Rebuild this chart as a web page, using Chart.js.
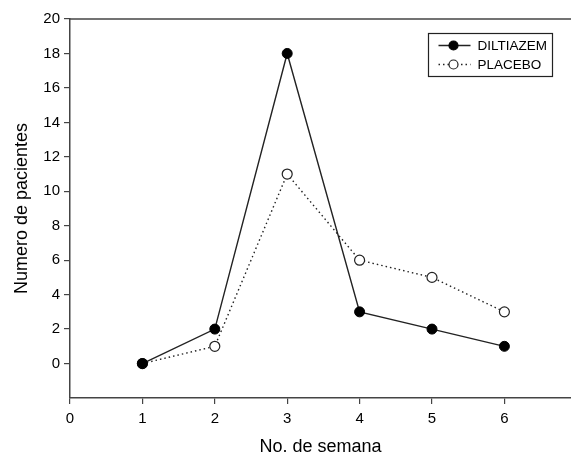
<!DOCTYPE html>
<html>
<head>
<meta charset="utf-8">
<script src="https://cdn.jsdelivr.net/npm/chart.js@4/dist/chart.umd.min.js"></script>
<style>
    html, body { margin: 0; padding: 0; background: #fff; overflow: hidden; }
    canvas { display: block; }
</style>
</head>
<body>
<canvas id="chart" width="571" height="458"></canvas>
<script>
// Data
const weeks = [1, 2, 3, 4, 5, 6];
const diltiazem = [0, 2, 18, 3, 2, 1];
const placebo = [0, 1, 11, 6, 5, 3];
const xTicks = [0, 1, 2, 3, 4, 5, 6];
const yTicks = [0, 2, 4, 6, 8, 10, 12, 14, 16, 18, 20];

const INK = '#222';
const FONT = 'Liberation Sans, Arial, Helvetica, sans-serif';

// Top frame line and the boxed legend inside the plot
const framePlugin = {
    id: 'frame',
    afterDraw(chart) {
        const ctx = chart.ctx;
        const area = chart.chartArea;
        ctx.save();
        ctx.strokeStyle = '#444';
        ctx.lineWidth = 1.5;
        ctx.beginPath();
        ctx.moveTo(area.left, area.top);
        ctx.lineTo(chart.width, area.top);
        ctx.stroke();

        // legend
        const bx = 428.5, by = 33.5, bw = 124, bh = 43;
        ctx.lineWidth = 1.2;
        ctx.strokeStyle = INK;
        ctx.strokeRect(bx, by, bw, bh);
        ctx.font = '13.5px ' + FONT;
        ctx.textBaseline = 'middle';
        ctx.fillStyle = '#000';
        chart.data.datasets.forEach((ds, i) => {
            const y = by + 12 + i * 19;
            ctx.beginPath();
            ctx.setLineDash(ds.borderDash || []);
            ctx.strokeStyle = ds.borderColor;
            ctx.lineWidth = ds.borderWidth;
            ctx.moveTo(bx + 10, y);
            ctx.lineTo(bx + 42, y);
            ctx.stroke();
            ctx.setLineDash([]);
            ctx.beginPath();
            ctx.arc(bx + 25, y, 4.5, 0, Math.PI * 2);
            ctx.fillStyle = ds.pointBackgroundColor;
            ctx.fill();
            ctx.lineWidth = 1.2;
            ctx.strokeStyle = ds.pointBorderColor;
            ctx.stroke();
            ctx.fillStyle = '#000';
            ctx.fillText(ds.label, bx + 49, y + 1);
        });
        ctx.restore();
    }
};

const ctx = document.getElementById('chart').getContext('2d');
new Chart(ctx, {
    type: 'line',
    data: {
        datasets: [{
            label: 'DILTIAZEM',
            data: weeks.map((w, i) => ({ x: w, y: diltiazem[i] })),
            borderColor: INK,
            borderWidth: 1.4,
            pointRadius: 5,
            pointBackgroundColor: '#000',
            pointBorderColor: '#000',
            pointBorderWidth: 1,
            tension: 0
        }, {
            label: 'PLACEBO',
            data: weeks.map((w, i) => ({ x: w, y: placebo[i] })),
            borderColor: INK,
            borderWidth: 1.4,
            borderDash: [1.5, 3],
            pointRadius: 5,
            pointBackgroundColor: '#fff',
            pointBorderColor: INK,
            pointBorderWidth: 1.2,
            tension: 0
        }]
    },
    options: {
        responsive: false,
        animation: false,
        layout: { autoPadding: false, padding: { top: 19, right: 0, left: 0, bottom: 0 } },
        plugins: {
            legend: { display: false },
            tooltip: { enabled: false }
        },
        scales: {
            x: {
                type: 'linear',
                min: 0,
                max: 6.92,
                afterBuildTicks: (scale) => { scale.ticks = xTicks.map(v => ({ value: v })); },
                afterFit: (scale) => {
                    scale.height = 60;
                    scale.paddingLeft = 0;
                    scale.paddingRight = 0;
                },
                border: { display: true, color: '#444', width: 1.5 },
                grid: { drawOnChartArea: false, tickLength: 6, color: '#444', lineWidth: 1.2 },
                ticks: { color: '#000', padding: 6, font: { family: FONT, size: 15 } },
                title: {
                    display: true,
                    text: 'No. de semana',
                    color: '#000',
                    padding: { top: 10, bottom: 0 },
                    font: { family: FONT, size: 18 }
                }
            },
            y: {
                min: -2,
                max: 20,
                afterBuildTicks: (scale) => { scale.ticks = yTicks.map(v => ({ value: v })); },
                afterFit: (scale) => { scale.width = 70; },
                border: { display: true, color: '#444', width: 1.5 },
                grid: { drawOnChartArea: false, tickLength: 6, color: '#444', lineWidth: 1.2 },
                ticks: { color: '#000', padding: 4, font: { family: FONT, size: 15 } },
                title: {
                    display: true,
                    text: 'Numero de pacientes',
                    color: '#000',
                    padding: { top: 11, bottom: 0 },
                    font: { family: FONT, size: 18 }
                }
            }
        }
    },
    plugins: [framePlugin]
});
</script>
</body>
</html>
